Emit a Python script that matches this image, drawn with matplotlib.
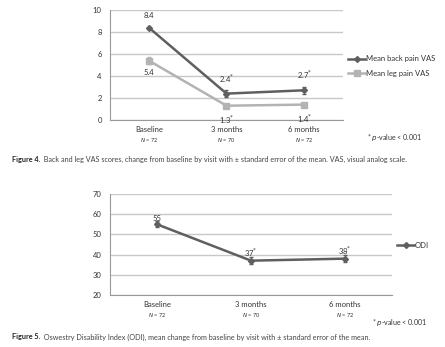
import matplotlib.pyplot as plt
from matplotlib.lines import Line2D
from matplotlib.transforms import blended_transform_factory

plt.rcParams['font.family'] = ['Lato', 'DejaVu Sans']

visits = ["Baseline", "3 months", "6 months"]
n_labels = ["72", "70", "72"]

back_vas = [8.4, 2.4, 2.7]
back_err = [0.1, 0.3, 0.3]
leg_vas = [5.4, 1.3, 1.4]
leg_err = [0.3, 0.1, 0.1]
back_txt = ["8.4", "2.4$^{*}$", "2.7$^{*}$"]
leg_txt = ["5.4", "1.3$^{*}$", "1.4$^{*}$"]

odi = [55, 37, 38]
odi_err = [1.5, 1.8, 1.8]
odi_txt = ["55", "37$^{*}$", "38$^{*}$"]

dark = "#5f5f5f"
light = "#b3b3b3"
grid_c = "#c8c8c8"
txt_c = "#333333"

W, H = 445, 347
fig = plt.figure(figsize=(W / 100, H / 100), dpi=100)


def px_axes(x0, y0, x1, y1):
    # pixel box (top-left origin) -> figure fraction axes
    return fig.add_axes([x0 / W, 1 - y1 / H, (x1 - x0) / W, (y1 - y0) / H])


def style(ax, ylim, yticks):
    ax.set_xlim(-0.5, 2.5)
    ax.set_ylim(*ylim)
    ax.set_yticks(yticks)
    ax.set_xticks(range(3))
    ax.set_xticklabels(visits, fontsize=5.5, color=txt_c)
    ax.tick_params(axis="y", labelsize=5.5, colors=txt_c, length=0, pad=6)
    ax.tick_params(axis="x", length=0, pad=4)
    ax.yaxis.grid(True, color=grid_c, lw=1)
    ax.set_axisbelow(True)
    for s in ["top", "right"]:
        ax.spines[s].set_visible(False)
    for s in ["left", "bottom"]:
        ax.spines[s].set_color("#999999")
        ax.spines[s].set_linewidth(0.8)


def n_row(ax, y_px_offset):
    tr = blended_transform_factory(ax.transData, ax.transAxes)
    for i, n in enumerate(n_labels):
        ax.annotate(f"$N$ = {n}", xy=(i, 0), xycoords=tr,
                    xytext=(0, y_px_offset), textcoords="offset pixels",
                    ha="center", va="center", fontsize=4, color=txt_c)


def handle(color, marker, ms):
    return Line2D([], [], color=color, lw=1.8, marker=marker, ms=ms)


# --- Figure 4: back and leg VAS ---
ax1 = px_axes(110, 10, 343, 120)
style(ax1, (0, 10), range(0, 11, 2))
x = list(range(3))
ax1.errorbar(x, back_vas, yerr=back_err, color=dark, lw=1.8, marker="D",
             ms=3, capsize=1.5, elinewidth=0.8)
ax1.errorbar(x, leg_vas, yerr=leg_err, color=light, lw=1.8, marker="s",
             ms=4, capsize=1.5, elinewidth=0.8)
for i in x:
    ax1.annotate(back_txt[i], (i, back_vas[i]), xytext=(0, 9),
                 textcoords="offset pixels", ha="center", va="bottom",
                 fontsize=5.5, color=txt_c)
    ax1.annotate(leg_txt[i], (i, leg_vas[i]), xytext=(0, -8),
                 textcoords="offset pixels", ha="center", va="top",
                 fontsize=5.5, color=txt_c)
n_row(ax1, -20)
ax1.legend([handle(dark, "D", 3), handle(light, "s", 4)],
           ["Mean back pain VAS", "Mean leg pain VAS"],
           loc="center left", bbox_to_anchor=(1.0, 0.49), frameon=False,
           fontsize=5.5, handlelength=2.2, handletextpad=0.05,
           labelspacing=1.0, labelcolor=txt_c, borderaxespad=0.3)
fig.text(367 / W, 1 - 137 / H, "* $p$-value < 0.001", fontsize=5,
         color=txt_c, va="center")

t4 = fig.text(12 / W, 1 - 159 / H, "Figure 4.", fontsize=5.2, weight="bold",
              color="#222222", va="center")
plt.annotate("  Back and leg VAS scores, change from baseline by visit with \u00b1 "
             "standard error of the mean. VAS, visual analog scale.",
             xy=(1, 0.5), xycoords=t4, va="center", ha="left", fontsize=5.2,
             color="#444444", annotation_clip=False)

# --- Figure 5: ODI ---
ax2 = px_axes(110, 194, 392, 295)
style(ax2, (20, 70), range(20, 71, 10))
ax2.errorbar(x, odi, yerr=odi_err, color=dark, lw=1.8, marker="D", ms=3,
             capsize=1.5, elinewidth=0.8)
for i in x:
    ax2.annotate(odi_txt[i], (i, odi[i]), xytext=(0, 2),
                 textcoords="offset pixels", ha="center", va="bottom",
                 fontsize=5.5, color=txt_c)
n_row(ax2, -20)
ax2.legend([handle(dark, "D", 3)], ["ODI"],
           loc="center left", bbox_to_anchor=(1.0, 0.49), frameon=False,
           fontsize=5.5, handlelength=2.2, handletextpad=0.05,
           labelcolor=txt_c, borderaxespad=0.3)
fig.text(372 / W, 1 - 322 / H, "* $p$-value < 0.001", fontsize=5,
         color=txt_c, va="center")

t5 = fig.text(12 / W, 1 - 337 / H, "Figure 5.", fontsize=5.2, weight="bold",
              color="#222222", va="center")
plt.annotate("  Oswestry Disability Index (ODI), mean change from baseline by "
             "visit with \u00b1 standard error of the mean.",
             xy=(1, 0.5), xycoords=t5, va="center", ha="left", fontsize=5.2,
             color="#444444", annotation_clip=False)

fig.savefig("out.png", dpi=100)
